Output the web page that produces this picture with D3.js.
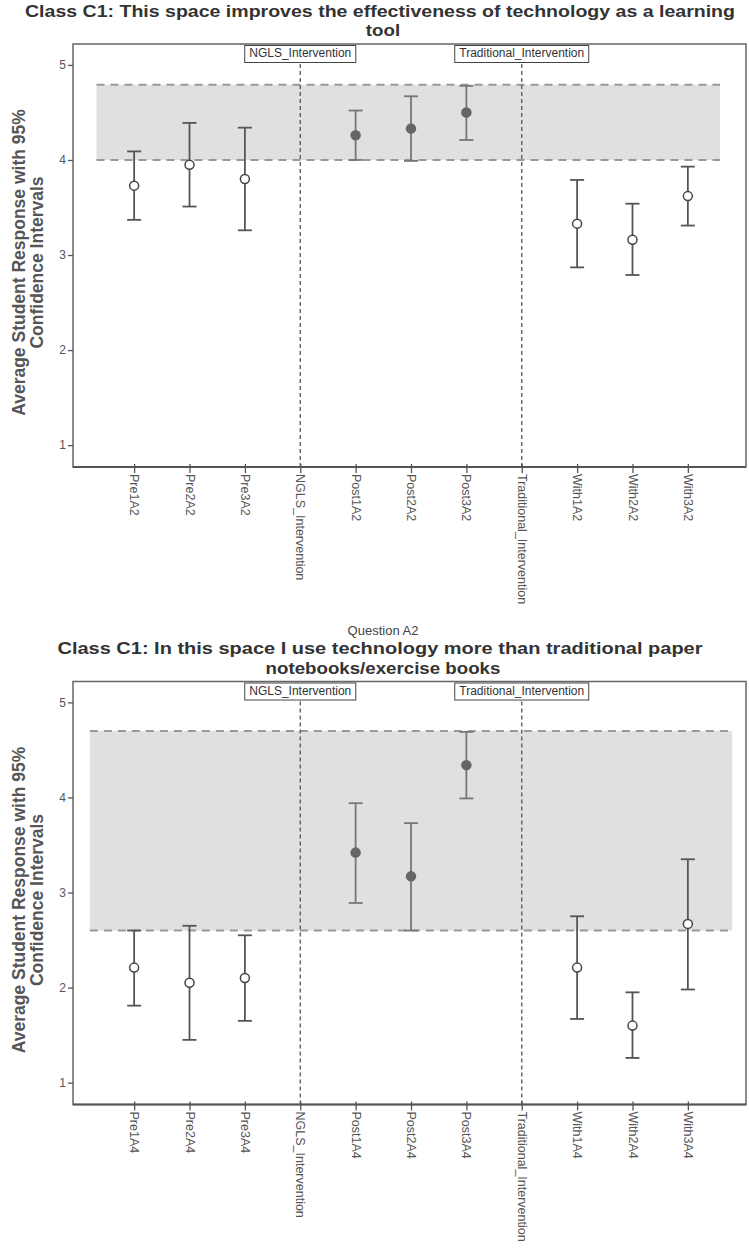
<!DOCTYPE html>
<html>
<head>
<meta charset="utf-8">
<script src="https://cdn.jsdelivr.net/npm/d3@7"></script>
<style>
  html, body { margin: 0; padding: 0; background: #fff; }
  svg { display: block; }
  text { font-family: "Liberation Sans", Arial, sans-serif; }
</style>
</head>
<body>
<svg id="chart" width="749" height="1253"></svg>
<script>
// ---------- data ----------
const categories1 = ["Pre1A2","Pre2A2","Pre3A2","NGLS_Intervention","Post1A2","Post2A2","Post3A2","Traditional_Intervention","With1A2","With2A2","With3A2"];
const means1 = [3.73, 3.95, 3.80, null, 4.26, 4.33, 4.50, null, 3.33, 3.16, 3.62];
const lower1 = [3.37, 3.51, 3.26, null, 4.00, 3.99, 4.21, null, 2.87, 2.79, 3.31];
const upper1 = [4.09, 4.39, 4.34, null, 4.52, 4.67, 4.78, null, 3.79, 3.54, 3.93];
const band1 = [4.00, 4.79];
const title1 = ["Class C1: This space improves the effectiveness of technology as a learning", "tool"];

const categories2 = ["Pre1A4","Pre2A4","Pre3A4","NGLS_Intervention","Post1A4","Post2A4","Post3A4","Traditional_Intervention","With1A4","With2A4","With3A4"];
const means2 = [2.21, 2.05, 2.10, null, 3.42, 3.17, 4.34, null, 2.21, 1.60, 2.67];
const lower2 = [1.81, 1.45, 1.65, null, 2.89, 2.60, 3.99, null, 1.67, 1.26, 1.98];
const upper2 = [2.60, 2.65, 2.55, null, 3.94, 3.73, 4.69, null, 2.75, 1.95, 3.35];
const band2 = [2.60, 4.70];
const subtitle2 = "Question A2";
const title2 = ["Class C1: In this space I use technology more than traditional paper", "notebooks/exercise books"];

const interventions = ["NGLS_Intervention", "Traditional_Intervention"];
const postPrefix = "Post";
const yTicks = [1, 2, 3, 4, 5];
const yDomain = [0.77, 5.22];
const yTitle = ["Average Student Response with 95%", "Confidence Intervals"];

// ---------- drawing ----------
const svg = d3.select("#chart");

function drawChart(cfg) {
  const { top, categories, means, lower, upper, band, title, titleWidth, subtitle, bandExt } = cfg;
  const left = 73, right = 746, bottom = top + 423;
  const g = svg.append("g");

  const x = d3.scalePoint().domain(categories).range([76, 746]).padding(1.05);
  const y = d3.scaleLinear().domain(yDomain).range([bottom, top]);
  const step = x.step();

  // titles
  if (subtitle) {
    g.append("text").attr("x", 383).attr("y", top - 50).attr("text-anchor", "middle")
      .attr("dominant-baseline", "middle").attr("font-size", 13).attr("fill", "#444").text(subtitle);
  }
  title.forEach((t, i) => {
    const tt = g.append("text").attr("x", i === 0 ? 380 : 383).attr("y", top - 31.5 + i * 19.5)
      .attr("text-anchor", "middle").attr("dominant-baseline", "middle")
      .attr("font-size", 17).attr("font-weight", "bold").attr("fill", "#333").text(t);
    if (i === 0) tt.attr("textLength", titleWidth).attr("lengthAdjust", "spacingAndGlyphs");
    else tt.attr("transform", `translate(383,0) scale(1.1,1) translate(-383,0)`);
  });

  // band
  const bx0 = x(categories[0]) - bandExt[0] * step;
  const bx1 = x(categories[categories.length - 1]) + bandExt[1] * step;
  g.append("rect").attr("x", bx0).attr("y", y(band[1])).attr("width", bx1 - bx0)
    .attr("height", y(band[0]) - y(band[1])).attr("fill", "#e0e0e0");
  band.forEach(v => {
    g.append("line").attr("x1", bx0).attr("x2", bx1).attr("y1", y(v)).attr("y2", y(v))
      .attr("stroke", "#999").attr("stroke-width", 2).attr("stroke-dasharray", "8,6");
  });

  // vertical intervention lines + boxes
  interventions.forEach(name => {
    const cx = x(name);
    const label = g.append("text").attr("x", cx).attr("y", top + 10)
      .attr("text-anchor", "middle").attr("dominant-baseline", "middle")
      .attr("font-size", 12).attr("fill", "#333").text(name);
    const w = label.node().getComputedTextLength() + 9;
    g.insert("rect", "text").attr("x", cx - w / 2).attr("y", top + 1.5).attr("width", w).attr("height", 17)
      .attr("fill", "#fff").attr("stroke", "#444").attr("stroke-width", 1);
    g.append("line").attr("x1", cx).attr("x2", cx).attr("y1", top + 20).attr("y2", bottom)
      .attr("stroke", "#555").attr("stroke-width", 1.3).attr("stroke-dasharray", "4,3");
  });

  // frame
  g.append("rect").attr("x", left).attr("y", top).attr("width", right - left).attr("height", bottom - top)
    .attr("fill", "none").attr("stroke", "#666").attr("stroke-width", 1.5);
  g.append("line").attr("x1", left).attr("x2", right).attr("y1", bottom).attr("y2", bottom)
    .attr("stroke", "#555").attr("stroke-width", 2.2);

  // y axis
  const yAxis = d3.axisLeft(y).tickValues(yTicks).tickSize(5).tickPadding(2).tickFormat(d3.format("d"));
  const ya = g.append("g").attr("transform", `translate(${left},0)`).call(yAxis);
  ya.select(".domain").remove();
  ya.selectAll(".tick line").attr("stroke", "#555").attr("stroke-width", 1.3);
  ya.selectAll(".tick text").attr("font-size", 12).attr("fill", "#555")
    .attr("font-family", '"Liberation Sans", Arial, sans-serif');

  // x axis
  const xAxis = d3.axisBottom(x).tickSize(6).tickPadding(3);
  const xa = g.append("g").attr("transform", `translate(0,${bottom})`).call(xAxis);
  xa.select(".domain").remove();
  xa.selectAll(".tick line").attr("stroke", "#555").attr("stroke-width", 1.3).attr("y1", -3);
  xa.selectAll(".tick text").attr("font-size", 12.5).attr("fill", "#555")
    .attr("font-family", '"Liberation Sans", Arial, sans-serif')
    .attr("text-anchor", "start").attr("transform", "rotate(90)")
    .attr("x", 7).attr("y", 0).attr("dy", "0.35em");

  // y title
  const cyMid = (top + bottom) / 2 + 7;
  yTitle.forEach((t, i) => {
    g.append("text").attr("transform", `translate(${20 + i * 18},${cyMid}) rotate(-90)`)
      .attr("text-anchor", "middle").attr("dominant-baseline", "middle")
      .attr("font-size", 17.5).attr("font-weight", "bold").attr("fill", "#555").text(t);
  });

  // error bars and points
  const pts = categories.map((c, i) => ({ c, m: means[i], lo: lower[i], hi: upper[i], post: c.startsWith(postPrefix) }))
    .filter(d => d.m !== null);
  const capW = 7;
  const eb = g.append("g").selectAll("g").data(pts).join("g")
    .attr("stroke", d => d.post ? "#777" : "#555").attr("stroke-width", 1.8);
  eb.append("line").attr("x1", d => x(d.c)).attr("x2", d => x(d.c)).attr("y1", d => y(d.lo)).attr("y2", d => y(d.hi));
  eb.append("line").attr("x1", d => x(d.c) - capW).attr("x2", d => x(d.c) + capW).attr("y1", d => y(d.hi)).attr("y2", d => y(d.hi));
  eb.append("line").attr("x1", d => x(d.c) - capW).attr("x2", d => x(d.c) + capW).attr("y1", d => y(d.lo)).attr("y2", d => y(d.lo));
  g.append("g").selectAll("circle").data(pts).join("circle")
    .attr("cx", d => x(d.c)).attr("cy", d => y(d.m)).attr("r", 4.5)
    .attr("fill", d => d.post ? "#666" : "#fff")
    .attr("stroke", d => d.post ? "#666" : "#444").attr("stroke-width", 1.5);
}

drawChart({ top: 44, categories: categories1, means: means1, lower: lower1, upper: upper1,
  band: band1, title: title1, titleWidth: 710, subtitle: null, bandExt: [0.68, 0.58] });
drawChart({ top: 681.5, categories: categories2, means: means2, lower: lower2, upper: upper2,
  band: band2, title: title2, titleWidth: 645, subtitle: subtitle2, bandExt: [0.8, 0.8] });
</script>
</body>
</html>
